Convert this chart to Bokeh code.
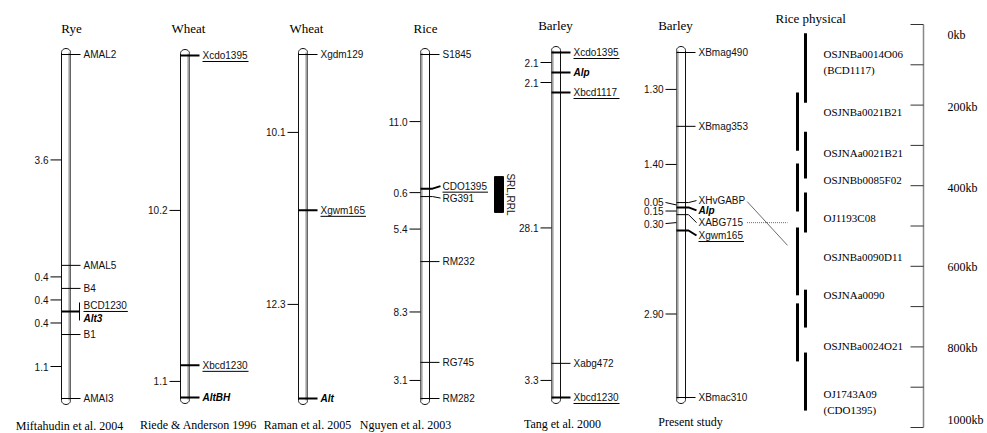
import math
from bokeh.plotting import figure
from bokeh.models import Range1d, ColumnDataSource, Label
from bokeh.embed import file_html
from bokeh.resources import INLINE
from bokeh.core.properties import value

# ------------------------------------------------------------------ DATA
map_titles = ["Rye", "Wheat", "Wheat", "Rice", "Barley", "Barley"]
map_sources = ["Miftahudin et al. 2004", "Riede & Anderson 1996", "Raman et al. 2005",
               "Nguyen et al. 2003", "Tang et al. 2000", "Present study"]

# marker positions: relative position along the drawn map (0 = top, 100 = bottom)
rye_markers = ["AMAL2", "AMAL5", "B4", "BCD1230", "Alt3", "B1", "AMAI3"]
rye_pos = [0, 61.3, 68.0, 74.7, 74.7, 81.4, 100]
rye_intervals = ["3.6", "0.4", "0.4", "0.4", "1.1"]
rye_underlined = ["BCD1230"]
rye_genes = ["Alt3"]

riede_markers = ["Xcdo1395", "Xbcd1230", "AltBH"]
riede_pos = [0, 90.6, 100]
riede_intervals = ["10.2", "1.1"]
riede_underlined = ["Xcdo1395", "Xbcd1230"]
riede_genes = ["AltBH"]

raman_markers = ["Xgdm129", "Xgwm165", "Alt"]
raman_pos = [0, 45.3, 100]
raman_intervals = ["10.1", "12.3"]
raman_underlined = ["Xgwm165"]
raman_genes = ["Alt"]

rice_markers = ["S1845", "CDO1395", "RG391", "RM232", "RG745", "RM282"]
rice_pos = [0, 39.0, 41.3, 60.2, 89.5, 100]
rice_intervals = ["11.0", "0.6", "5.4", "8.3", "3.1"]
rice_underlined = ["CDO1395"]
rice_genes = []
rice_qtl_name = "SRL,RRL"
rice_qtl_span = [35.5, 45.9]

tang_markers = ["Xcdo1395", "Alp", "Xbcd1117", "Xabg472", "Xbcd1230"]
tang_pos = [0, 5.8, 11.6, 90.1, 100]
tang_intervals = ["2.1", "2.1", "28.1", "3.3"]
tang_underlined = ["Xcdo1395", "Xbcd1117", "Xbcd1230"]
tang_genes = ["Alp"]

present_markers = ["XBmag490", "XBmag353", "XHvGABP", "Alp", "XABG715", "Xgwm165", "XBmac310"]
present_pos = [0, 21.4, 43.5, 44.9, 47.0, 51.6, 100]
present_intervals = ["1.30", "1.40", "0.05", "0.15", "0.30", "2.90"]
present_underlined = ["Xgwm165"]
present_genes = ["Alp"]
present_links = ["XHvGABP", "XABG715"]
present_link_kb = [548, 496]

# rice physical map (kb)
bac_names = ["OSJNBa0014O06", "OSJNBa0021B21", "OSJNAa0021B21", "OSJNBb0085F02", "OJ1193C08",
             "OSJNBa0090D11", "OSJNAa0090", "OSJNBa0024O21", "OJ1743A09"]
bac_alias = ["(BCD1117)", "", "", "", "", "", "", "", "(CDO1395)"]
bac_start_kb = [22, 169, 266, 345, 417, 504, 658, 692, 814]
bac_end_kb = [194, 313, 382, 464, 516, 672, 752, 836, 958]
bac_label_kb = [74, 218, 318, 387, 481, 578, 672, 799, 918]
scale_ticks_kb = [0, 100, 200, 300, 400, 500, 600, 700, 800, 900, 1000]
scale_label_kb = [0, 200, 400, 600, 800, 1000]
scale_labels = ["0kb", "200kb", "400kb", "600kb", "800kb", "1000kb"]

# ------------------------------------------------------------------ LAYOUT / STYLE
W, H = 987, 433
BAR_W = 9
map_x_left = [61, 180, 298, 420, 551, 676]
map_y_top = [54, 55, 54, 54, 52, 52]
map_y_bot = [398, 397, 398, 398, 397, 397]
map_shade = ["right", "right", "right", "left", "left", "left"]
title_x = [71, 188, 306, 425, 555, 675]
title_y = [28, 28, 28, 28, 25, 25]
source_x = [69, 198, 307, 405, 562, 690]
source_y = [425, 424, 424, 424, 423, 421]

label_dy = {
    (0, "BCD1230"): -6, (0, "Alt3"): 7,
    (3, "CDO1395"): -2.5, (3, "RG391"): 1.5,
    (5, "XHvGABP"): -2, (5, "Alp"): 3, (5, "XABG715"): 8, (5, "Xgwm165"): 5,
}
interval_dy = {(5, 2): -2.5, (5, 4): 1}

SANS_NAME = "Liberation Sans"
SANS = value(SANS_NAME)
SERIF = value("Liberation Serif")

ARIAL = {c: 556 for c in "0123456789abdegopquhn"}
ARIAL.update({"A": 667, "B": 667, "C": 722, "D": 722, "G": 778, "H": 722, "I": 278, "L": 556,
              "M": 833, "N": 722, "O": 778, "P": 667, "R": 722, "S": 667, "V": 667, "X": 667,
              "c": 500, "m": 833, "v": 500, "w": 722, "l": 222, "t": 278, "i": 222, " ": 278})


def text_w(s, size):
    return sum(ARIAL.get(ch, 556) for ch in s) * size / 1000.0


def kb2y(kb):
    return 24 + kb * 0.403


maps = [
    (rye_markers, rye_pos, rye_intervals, rye_underlined, rye_genes),
    (riede_markers, riede_pos, riede_intervals, riede_underlined, riede_genes),
    (raman_markers, raman_pos, raman_intervals, raman_underlined, raman_genes),
    (rice_markers, rice_pos, rice_intervals, rice_underlined, rice_genes),
    (tang_markers, tang_pos, tang_intervals, tang_underlined, tang_genes),
    (present_markers, present_pos, present_intervals, present_underlined, present_genes),
]

p = figure(width=W, height=H, x_range=Range1d(0, W), y_range=Range1d(H, 0),
           output_backend="svg", toolbar_location=None, min_border=0)
p.axis.visible = False
p.grid.visible = False
p.outline_line_color = None
p.background_fill_color = "white"

seg = dict(x0=[], y0=[], x1=[], y1=[], w=[])
bent = dict(xs=[], ys=[], w=[])
lab = dict(x=[], y=[], t=[])
gene = dict(x=[], y=[], t=[])
ilab = dict(x=[], y=[], t=[])
label_pos = {}


def add_seg(x0, y0, x1, y1, w=1.0):
    seg["x0"].append(x0); seg["y0"].append(y0); seg["x1"].append(x1); seg["y1"].append(y1); seg["w"].append(w)


for i, (names, pos, ints, und, genes) in enumerate(maps):
    xl = map_x_left[i]
    xr = xl + BAR_W
    yt, yb = map_y_top[i], map_y_bot[i]

    def py(v):
        return yt + v / 100.0 * (yb - yt)

    # chromosome capsule
    cap = 4
    top, bot = yt - 2, yb + 2
    xs, ys = [xl, xl], [top, bot]
    for k in range(13):
        a = math.pi * k / 12
        xs.append(xl + BAR_W / 2 - BAR_W / 2 * math.cos(a)); ys.append(bot + cap * math.sin(a))
    xs.append(xr); ys.append(top)
    for k in range(13):
        a = math.pi * k / 12
        xs.append(xl + BAR_W / 2 + BAR_W / 2 * math.cos(a)); ys.append(top - cap * math.sin(a))
    p.patch(xs, ys, fill_color="white", line_color="#111111", line_width=1)
    sx = xr - 1 if map_shade[i] == "right" else xl + 1
    p.line([sx, sx], [top, bot], line_color="#a0a0a0", line_width=2.2)

    # marker ticks + labels
    counts = {}
    for n, v in zip(names, pos):
        counts[v] = counts.get(v, 0) + 1
    done_bracket = set()
    for n, v in zip(names, pos):
        y = py(v)
        thick = 2.0 if (n in und or n in genes) else 1.0
        dy = label_dy.get((i, n), 0)
        ly = y + dy
        lx = xr + 13
        if counts[v] > 1:
            if v not in done_bracket:
                add_seg(xl, y, xr + 9, y, thick)
                add_seg(xr + 9, y - 9, xr + 9, y + 9, 1.0)
                done_bracket.add(v)
        elif dy != 0:
            bent["xs"].append([xl, xr + 3, lx - 2])
            bent["ys"].append([y, y, ly])
            bent["w"].append(thick)
        else:
            add_seg(xl, y, xr + 10, y, thick)
        d = gene if n in genes else lab
        d["x"].append(lx); d["y"].append(ly); d["t"].append(n)
        label_pos[(i, n)] = (lx + text_w(n, 10), ly)
        if n in und:
            add_seg(lx, ly + 6, lx + text_w(n, 10) + 1, ly + 6, 1.0)

    # interval distances
    uniq = sorted(set(pos))
    for j, t in enumerate(ints):
        mid = py((uniq[j] + uniq[j + 1]) / 2.0)
        ly = mid + interval_dy.get((i, j), 0)
        add_seg(xl - 11, ly, xl, mid, 1.0)
        ilab["x"].append(xl - 13); ilab["y"].append(ly); ilab["t"].append(t)

    if i == 3:
        q0, q1 = py(rice_qtl_span[0]), py(rice_qtl_span[1])
        p.quad(left=[xr + 65], right=[xr + 74], top=[q0], bottom=[q1],
               fill_color="black", line_color="black")
        p.add_layout(Label(x=xr + 81, y=(q0 + q1) / 2, text=rice_qtl_name, angle=-math.pi / 2,
                           text_align="center", text_baseline="middle", text_font=SANS_NAME,
                           text_font_size="10px", text_color="#111111"))

p.segment("x0", "y0", "x1", "y1", line_width="w", line_color="black", source=ColumnDataSource(seg))
p.multi_line("xs", "ys", line_width="w", line_color="black", source=ColumnDataSource(bent))
p.text("x", "y", "t", source=ColumnDataSource(lab), text_font=SANS, text_font_size="10px",
       text_baseline="middle", text_align="left", text_color="#111111")
p.text("x", "y", "t", source=ColumnDataSource(gene), text_font=SANS, text_font_size="10px",
       text_font_style="bold italic", text_baseline="middle", text_align="left", text_color="black")
p.text("x", "y", "t", source=ColumnDataSource(ilab), text_font=SANS, text_font_size="10px",
       text_baseline="middle", text_align="right", text_color="#111111")

# links from present study to physical map
for n, kb, dash in zip(present_links, present_link_kb, ["solid", "dotted"]):
    ex, ey = label_pos[(5, n)]
    if dash == "solid":
        p.line([ex + 2, 787], [ey + 1, kb2y(kb)], line_color="#444444", line_width=0.8)
    else:
        p.line([ex + 4, 787], [ey, ey], line_color="#444444", line_width=0.8, line_dash="1 1")

# titles / sources
p.text(title_x, title_y, map_titles, text_font=SERIF, text_font_size="13px",
       text_align="center", text_baseline="middle", text_color="black")
p.text([775], [18], ["Rice physical"], text_font=SERIF, text_font_size="13px",
       text_align="left", text_baseline="middle", text_color="black")
p.text(source_x, source_y, map_sources, text_font=SERIF, text_font_size="12px",
       text_align="center", text_baseline="middle", text_color="black")

# physical map BAC contigs
cols = [805 if k % 2 == 0 else 797 for k in range(len(bac_names))]
p.segment(x0=cols, y0=[kb2y(v) for v in bac_start_kb], x1=cols, y1=[kb2y(v) for v in bac_end_kb],
          line_width=3, line_color="black")
p.text([823] * len(bac_names), [kb2y(v) for v in bac_label_kb], bac_names, text_font=SERIF,
       text_font_size="11px", text_baseline="middle", text_align="left", text_color="black")
al = [(a, v) for a, v in zip(bac_alias, bac_label_kb) if a]
p.text([823] * len(al), [kb2y(v) + 16 for a, v in al], [a for a, v in al], text_font=SERIF,
       text_font_size="11px", text_baseline="middle", text_align="left", text_color="black")

# kb scale
p.line([923, 923], [kb2y(0), kb2y(1000)], line_color="#888888", line_width=1.5)
p.segment(x0=[910] * len(scale_ticks_kb), y0=[kb2y(v) for v in scale_ticks_kb],
          x1=[923] * len(scale_ticks_kb), y1=[kb2y(v) for v in scale_ticks_kb],
          line_color="#333333", line_width=1)
label_shift = [10, 2, 2, 1, 1, -8]
p.text([947] * len(scale_labels), [kb2y(v) + s for v, s in zip(scale_label_kb, label_shift)],
       scale_labels, text_font=SERIF, text_font_size="12px", text_baseline="middle",
       text_align="left", text_color="black")

open("out.html", "w").write(file_html(p, INLINE))
